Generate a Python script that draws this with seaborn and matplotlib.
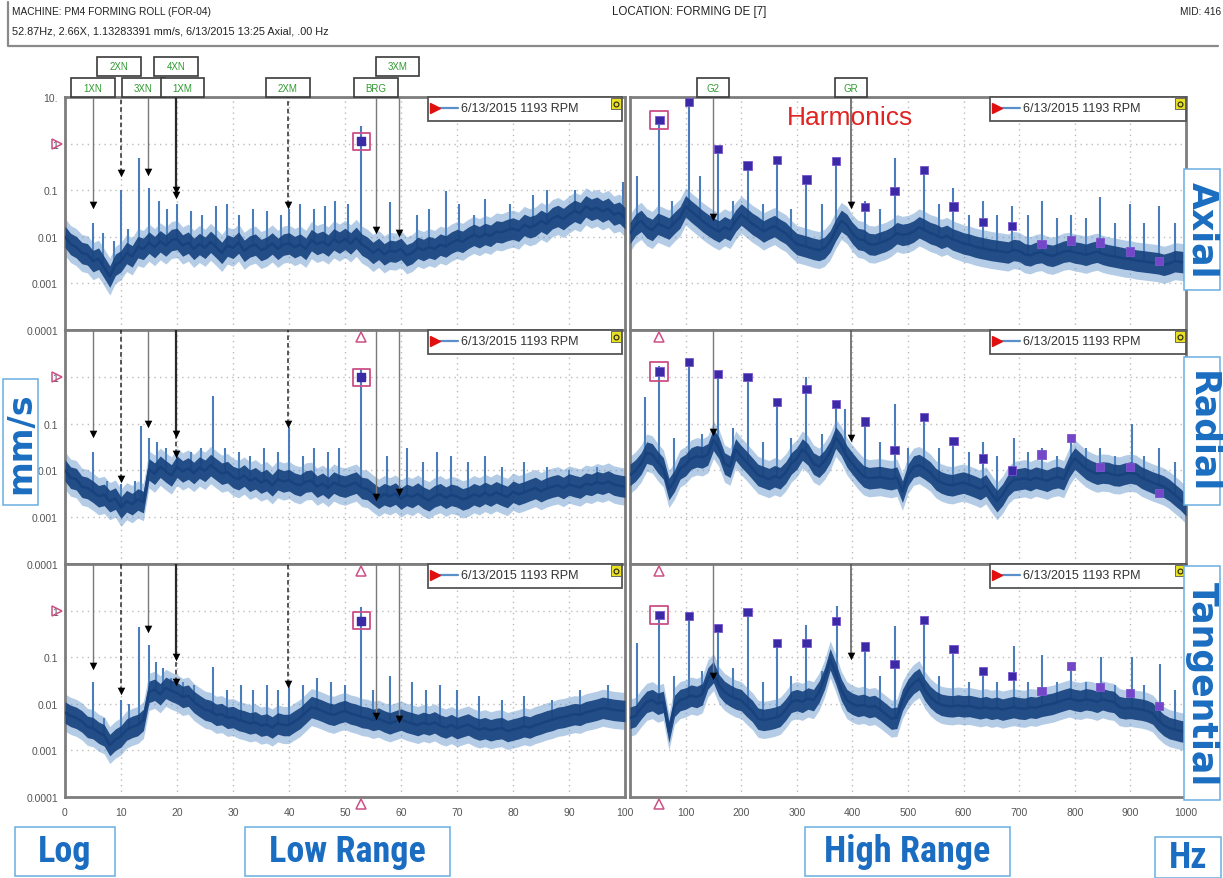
import numpy as np
import matplotlib
matplotlib.use("Agg")
import matplotlib.pyplot as plt
import matplotlib.transforms as mtrans
from matplotlib.patches import Rectangle
from matplotlib.lines import Line2D
from matplotlib.ticker import NullLocator
import seaborn as sns

# ── Data ──────────────────────────────────────────────────────────────────
LOW_FREQ = list(range(0, 101))            # Hz, low range floor samples
HIGH_FREQ = list(range(0, 1001, 10))      # Hz, high range floor samples

AXIAL_LOW = [0.01, 0.007, 0.006, 0.0045, 0.0042, 0.003, 0.0034, 0.0022, 0.0014, 0.0025,
             0.003, 0.0045, 0.0038, 0.006, 0.0055, 0.0075, 0.006, 0.008, 0.0065, 0.0085,
             0.009, 0.0065, 0.0075, 0.0055, 0.007, 0.0058, 0.0078, 0.006, 0.0045, 0.0065,
             0.0058, 0.0075, 0.005, 0.0062, 0.0068, 0.0052, 0.0058, 0.0072, 0.0055, 0.0068,
             0.0072, 0.006, 0.0068, 0.0055, 0.0085, 0.007, 0.0078, 0.0065, 0.0088, 0.0075,
             0.009, 0.0072, 0.0095, 0.0068, 0.0058, 0.0045, 0.0055, 0.0042, 0.005, 0.0048,
             0.0055, 0.004, 0.0045, 0.0058, 0.0052, 0.006, 0.0055, 0.0068, 0.0062, 0.0075,
             0.0085, 0.0078, 0.0095, 0.011, 0.0098, 0.0115, 0.0105, 0.013, 0.0125, 0.014,
             0.015, 0.0135, 0.018, 0.016, 0.0175, 0.022, 0.019, 0.025, 0.028, 0.024,
             0.03, 0.036, 0.032, 0.045, 0.038, 0.042, 0.035, 0.04, 0.03, 0.033,
             0.025]
RADIAL_LOW = [0.01, 0.007, 0.0065, 0.0045, 0.0042, 0.0035, 0.0028, 0.003, 0.0022, 0.0025,
              0.0016, 0.0022, 0.0019, 0.0024, 0.0021, 0.0105, 0.0085, 0.012, 0.0095, 0.0078,
              0.012, 0.0095, 0.011, 0.0088, 0.0115, 0.0098, 0.013, 0.0105, 0.0085, 0.0092,
              0.0072, 0.0065, 0.0078, 0.006, 0.0068, 0.0055, 0.0062, 0.0048, 0.0065, 0.0058,
              0.0062, 0.0052, 0.0048, 0.0058, 0.006, 0.0045, 0.0052, 0.0042, 0.0055, 0.0048,
              0.0045, 0.005, 0.0055, 0.0042, 0.004, 0.0032, 0.0026, 0.0031, 0.0028, 0.0032,
              0.0025, 0.003, 0.0027, 0.0032, 0.0026, 0.0023, 0.0028, 0.0031, 0.0026, 0.003,
              0.0028, 0.0024, 0.0026, 0.0031, 0.0028, 0.0033, 0.0029, 0.0034, 0.003, 0.0027,
              0.0035, 0.0031, 0.0034, 0.0038, 0.0042, 0.0036, 0.0041, 0.0045, 0.0048, 0.0042,
              0.005, 0.0046, 0.0043, 0.0052, 0.0049, 0.0056, 0.0052, 0.0058, 0.005, 0.0047,
              0.0045]
TANG_LOW = [0.0065, 0.0055, 0.005, 0.0042, 0.0032, 0.003, 0.0024, 0.0021, 0.0013, 0.0017,
            0.002, 0.0028, 0.0032, 0.0035, 0.0045, 0.018, 0.02, 0.016, 0.022, 0.019,
            0.017, 0.014, 0.015, 0.011, 0.009, 0.0075, 0.007, 0.0058, 0.006, 0.005,
            0.0052, 0.0045, 0.0042, 0.0038, 0.004, 0.0034, 0.0036, 0.0031, 0.0038, 0.0035,
            0.0035, 0.0042, 0.005, 0.0065, 0.0085, 0.0078, 0.007, 0.0062, 0.0058, 0.0065,
            0.007, 0.0062, 0.0058, 0.0052, 0.005, 0.0045, 0.0048, 0.0042, 0.0038, 0.0042,
            0.0046, 0.0041, 0.0038, 0.0035, 0.0039, 0.0036, 0.004, 0.0034, 0.0031, 0.0035,
            0.003, 0.0033, 0.0036, 0.0031, 0.0028, 0.003, 0.0027, 0.0029, 0.003, 0.0026,
            0.0028, 0.003, 0.0033, 0.0031, 0.0035, 0.0038, 0.0042, 0.0045, 0.005, 0.0052,
            0.0056, 0.006, 0.0058, 0.0066, 0.007, 0.0075, 0.0082, 0.0078, 0.0074, 0.0072,
            0.007]

AXIAL_HIGH = [0.012, 0.018, 0.022, 0.016, 0.014, 0.019, 0.017, 0.015, 0.02, 0.026,
              0.045, 0.035, 0.028, 0.022, 0.018, 0.015, 0.013, 0.016, 0.014, 0.022,
              0.03, 0.024, 0.019, 0.016, 0.013, 0.015, 0.017, 0.014, 0.012, 0.009,
              0.007, 0.0065, 0.006, 0.0055, 0.0052, 0.0058, 0.008, 0.014, 0.022, 0.018,
              0.012, 0.009, 0.0085, 0.007, 0.0068, 0.0075, 0.0082, 0.0095, 0.012, 0.011,
              0.0115, 0.013, 0.016, 0.014, 0.012, 0.011, 0.0095, 0.0105, 0.0088, 0.008,
              0.0072, 0.0068, 0.0062, 0.0058, 0.0055, 0.0052, 0.005, 0.0048, 0.0046, 0.0052,
              0.005, 0.0042, 0.004, 0.0045, 0.0047, 0.0041, 0.0039, 0.0043, 0.0048, 0.005,
              0.0046, 0.0044, 0.0041, 0.0045, 0.0048, 0.0043, 0.004, 0.0038, 0.0036, 0.0034,
              0.0033, 0.0031, 0.003, 0.0029, 0.0028, 0.0027, 0.0025, 0.0027, 0.003, 0.0029,
              0.0028]
RADIAL_HIGH = [0.008, 0.01, 0.014, 0.024, 0.022, 0.015, 0.011, 0.004, 0.006, 0.011,
               0.013, 0.018, 0.02, 0.019, 0.022, 0.045, 0.03, 0.014, 0.012, 0.028,
               0.02, 0.015, 0.011, 0.008, 0.0072, 0.0065, 0.0075, 0.0068, 0.009, 0.014,
               0.018, 0.028, 0.022, 0.014, 0.012, 0.016, 0.025, 0.05, 0.035, 0.02,
               0.014, 0.01, 0.0075, 0.0068, 0.007, 0.0072, 0.0068, 0.0065, 0.007, 0.0035,
               0.008, 0.012, 0.013, 0.011, 0.009, 0.0065, 0.0055, 0.005, 0.0048, 0.0052,
               0.0055, 0.005, 0.0045, 0.004, 0.0048, 0.0032, 0.0022, 0.003, 0.0048, 0.0062,
               0.0065, 0.0068, 0.0062, 0.007, 0.0065, 0.006, 0.0068, 0.0072, 0.0065, 0.012,
               0.018, 0.014, 0.011, 0.0095, 0.0085, 0.009, 0.0088, 0.008, 0.0078, 0.0085,
               0.009, 0.0085, 0.007, 0.0062, 0.0055, 0.005, 0.0045, 0.0038, 0.003, 0.0024,
               0.0018]
TANG_HIGH = [0.005, 0.0055, 0.008, 0.011, 0.012, 0.01, 0.011, 0.0025, 0.009, 0.012,
             0.013, 0.015, 0.014, 0.016, 0.035, 0.048, 0.025, 0.018, 0.015, 0.013,
             0.012, 0.009, 0.007, 0.0048, 0.0045, 0.0047, 0.005, 0.0055, 0.0075, 0.011,
             0.012, 0.011, 0.013, 0.012, 0.018, 0.035, 0.09, 0.045, 0.02, 0.012,
             0.01, 0.009, 0.0095, 0.0085, 0.009, 0.0075, 0.006, 0.0048, 0.005, 0.012,
             0.02, 0.028, 0.034, 0.02, 0.014, 0.011, 0.0095, 0.009, 0.0088, 0.0092,
             0.0088, 0.009, 0.0085, 0.008, 0.0085, 0.0078, 0.0082, 0.0075, 0.008, 0.0085,
             0.008, 0.0078, 0.0085, 0.0082, 0.009, 0.0095, 0.01, 0.011, 0.012, 0.013,
             0.012, 0.0115, 0.0125, 0.012, 0.011, 0.0125, 0.0115, 0.011, 0.0085, 0.008,
             0.0082, 0.0078, 0.0075, 0.007, 0.0062, 0.0045, 0.0035, 0.003, 0.0028, 0.0026,
             0.0025]

# spectral lines (Hz, mm/s)
AXIAL_LOW_PEAKS = [(5.0, 0.02), (6.7, 0.012), (8.8, 0.008), (10.0, 0.1), (11.2, 0.015),
                   (13.3, 0.5), (15.0, 0.11), (16.8, 0.06), (18.2, 0.04), (20.0, 0.05),
                   (22.5, 0.035), (24.5, 0.03), (27.0, 0.045), (29.0, 0.05), (31.0, 0.03),
                   (33.5, 0.04), (36.0, 0.035), (38.5, 0.03), (40.0, 0.04), (42.0, 0.05),
                   (44.5, 0.04), (46.4, 0.045), (48.2, 0.06), (50.5, 0.05), (52.9, 2.4),
                   (58.0, 0.055), (62.8, 0.03), (65.0, 0.04), (68.0, 0.094), (70.3, 0.05),
                   (73.0, 0.03), (75.0, 0.065), (79.5, 0.05), (83.6, 0.08), (86.0, 0.1),
                   (91.0, 0.1), (99.6, 0.15)]
RADIAL_LOW_PEAKS = [(5.0, 0.025), (7.5, 0.006), (10.0, 0.005), (12.5, 0.006), (13.5, 0.09),
                    (15.0, 0.05), (16.5, 0.04), (18.0, 0.03), (20.0, 0.02), (22.5, 0.025),
                    (24.3, 0.03), (26.5, 0.38), (28.5, 0.03), (31.0, 0.025), (33.0, 0.02),
                    (35.5, 0.03), (38.0, 0.025), (40.0, 0.083), (42.5, 0.02), (44.5, 0.03),
                    (47.0, 0.025), (49.0, 0.03), (52.9, 1.5), (57.5, 0.02), (61.0, 0.03),
                    (64.0, 0.015), (66.5, 0.025), (69.0, 0.02), (72.0, 0.015), (75.0, 0.02),
                    (78.0, 0.012), (82.0, 0.015), (86.0, 0.012), (90.0, 0.01), (95.0, 0.012)]
TANG_LOW_PEAKS = [(5.0, 0.03), (7.0, 0.005), (10.0, 0.012), (11.5, 0.01), (13.3, 0.45),
                  (15.0, 0.18), (16.3, 0.08), (17.5, 0.06), (19.0, 0.035), (21.0, 0.03),
                  (23.0, 0.025), (26.5, 0.063), (29.0, 0.02), (31.5, 0.025), (33.5, 0.02),
                  (36.0, 0.025), (38.0, 0.02), (40.0, 0.03), (42.5, 0.025), (45.0, 0.035),
                  (47.5, 0.03), (50.0, 0.025), (52.9, 1.2), (55.0, 0.02), (58.0, 0.04),
                  (62.0, 0.03), (64.5, 0.02), (67.0, 0.025), (70.0, 0.02), (74.0, 0.015),
                  (78.0, 0.012), (82.0, 0.015), (87.0, 0.012), (92.0, 0.02), (97.0, 0.025)]

AXIAL_HIGH_PEAKS = [(13, 0.2), (52.9, 3.2), (75, 0.06), (105.7, 7.8), (126, 0.2), (158.6, 0.76),
                    (185, 0.06), (211.5, 0.34), (240, 0.05), (264.4, 0.44), (290, 0.04),
                    (317.2, 0.17), (345, 0.05), (370.1, 0.42), (423, 0.06), (450, 0.04),
                    (476, 0.5), (528.7, 0.27), (555, 0.05), (581.6, 0.11), (610, 0.03),
                    (634.4, 0.06), (660, 0.03), (687.3, 0.045), (715, 0.03), (740.2, 0.06),
                    (768, 0.025), (793, 0.03), (820, 0.025), (846, 0.07), (872, 0.02),
                    (898.8, 0.05), (925, 0.02), (951.7, 0.045), (980, 0.02)]
RADIAL_HIGH_PEAKS = [(27, 0.37), (52.9, 1.7), (80, 0.05), (105.7, 2.1), (130, 0.06), (158.6, 1.14),
                     (185, 0.08), (211.5, 1.0), (240, 0.04), (264.4, 0.29), (290, 0.05),
                     (317.2, 0.97), (345, 0.06), (370.1, 0.26), (387, 0.21), (423, 0.11),
                     (450, 0.04), (476, 0.26), (500, 0.03), (528.7, 0.14), (555, 0.03),
                     (581.6, 0.042), (610, 0.025), (634.4, 0.04), (660, 0.02), (690, 0.05),
                     (715, 0.025), (740.2, 0.03), (768, 0.02), (793, 0.05), (820, 0.03),
                     (846, 0.03), (872, 0.02), (902, 0.1), (925, 0.02), (951.7, 0.03), (980, 0.015)]
TANG_HIGH_PEAKS = [(13, 0.2), (52.9, 0.8), (80, 0.04), (105.7, 0.76), (130, 0.05), (158.6, 0.42),
                   (185, 0.06), (211.5, 0.93), (240, 0.03), (264.4, 0.2), (290, 0.04),
                   (317.2, 0.5), (345, 0.05), (372, 1.26), (423, 0.17), (450, 0.04),
                   (477, 0.47), (500, 0.03), (528.7, 0.63), (555, 0.04), (581.6, 0.15),
                   (610, 0.03), (634.4, 0.05), (660, 0.03), (690, 0.17), (715, 0.03),
                   (740.2, 0.11), (768, 0.03), (793, 0.065), (820, 0.03), (847, 0.1),
                   (872, 0.025), (902, 0.1), (925, 0.025), (953, 0.07), (980, 0.02)]

# 1X..18X of 52.87 Hz
HARM_FREQ = [52.9, 105.7, 158.6, 211.5, 264.4, 317.2, 370.1, 423.0, 475.8,
             528.7, 581.6, 634.4, 687.3, 740.2, 793.1, 845.9, 898.8, 951.7]
AXIAL_HARM = [3.2, 7.8, 0.76, 0.34, 0.44, 0.17, 0.42, 0.043, 0.096,
              0.27, 0.045, 0.021, 0.017, 0.007, 0.0083, 0.0076, 0.0048, 0.003]
RADIAL_HARM = [1.3, 2.1, 1.14, 1.0, 0.29, 0.54, 0.26, 0.11, 0.027,
               0.14, 0.042, 0.018, 0.01, 0.022, 0.05, 0.012, 0.012, 0.0033]
TANG_HARM = [0.8, 0.76, 0.42, 0.93, 0.2, 0.2, 0.59, 0.17, 0.071,
             0.63, 0.15, 0.05, 0.04, 0.019, 0.065, 0.023, 0.017, 0.009]

CURSOR_FREQ = 52.87
LOW_CURSOR = [1.13, 0.98, 0.6]

LOW_MARK_NAMES = ["1XN", "2XN", "3XN", "4XN", "1XM", "2XM", "BRG", "3XM"]
LOW_MARK_FREQ = [4.97, 9.94, 14.91, 19.88, 19.88, 39.77, 55.5, 59.65]
AXIAL_LOW_MARK = [0.049, 0.23, 0.25, 0.1, 0.077, 0.049, 0.014, 0.012]
RADIAL_LOW_MARK = [0.059, 0.0066, 0.1, 0.059, 0.022, 0.096, 0.0027, 0.0035]
TANG_LOW_MARK = [0.064, 0.019, 0.4, 0.1, 0.03, 0.027, 0.0055, 0.0047]

HIGH_MARK_NAMES = ["G2", "GR"]
HIGH_MARK_FREQ = [149, 397]
AXIAL_HIGH_MARK = [0.027, 0.047]
RADIAL_HIGH_MARK = [0.065, 0.05]
TANG_HIGH_MARK = [0.04, 0.107]

DIRECTIONS = ["Axial", "Radial", "Tangential"]
Y_TICKS = [10, 1, 0.1, 0.01, 0.001, 0.0001]
Y_LABELS_TOP = ["10.", "1", "0.1", "0.01", "0.001", "0.0001"]
Y_LABELS_REST = ["", "1", "0.1", "0.01", "0.001", "0.0001"]
X_LOW_LABELS = ["0", "10", "20", "30", "40", "50", "60", "70", "80", "90", "100"]
X_HIGH_LABELS = ["", "100", "200", "300", "400", "500", "600", "700", "800", "900", "1000"]
LEGEND_TEXT = "6/13/2015 1193 RPM"

# ── Style ────────────────────────────────────────────────────────────────
W, H = 1223, 879
NAVY = "#17427e"
LIGHT = "#5b8fc8"
SPIKE = "#4a7dbb"
GRID = "#bcbcbc"
FRAME = "#7d7d7d"
PINK = "#cc4f86"
HARM_DARK = "#3a2aa6"
HARM_LIGHT = "#7446c8"
LABEL_BLUE = "#1a6dc0"
BOX_BLUE = "#6aaee0"

sns.set_style("white")
plt.rcParams["font.family"] = ["Liberation Sans", "DejaVu Sans"]
NARROW = ["Roboto Condensed", "Liberation Sans Narrow", "Roboto", "DejaVu Sans"]

fig = plt.figure(figsize=(W / 100, H / 100), dpi=100)


def px_rect(x0, y0, x1, y1):
    return [x0 / W, 1 - y1 / H, (x1 - x0) / W, (y1 - y0) / H]


def fpt(x, y):
    return x / W, 1 - y / H


def draw_spectrum(ax, freq, floor, peaks):
    freq = np.asarray(freq, float)
    floor = np.asarray(floor, float)
    pf, pa = map(np.asarray, zip(*peaks))
    base = np.interp(pf, freq, floor)
    ax.vlines(pf, base, pa, color=SPIKE, lw=1.5, zorder=2)
    ax.fill_between(freq, floor / 2.5, floor * 2.5, color=LIGHT, lw=0, alpha=0.45, zorder=2.5)
    ax.fill_between(freq, floor / 1.7, floor * 1.7, color=NAVY, lw=0, alpha=0.92, zorder=3)
    sns.lineplot(x=freq, y=floor, ax=ax, color=NAVY, lw=1.8, estimator=None, zorder=3.5)


def draw_markers(ax, freqs, vals, styles):
    for f, v, (c, ls, lw) in zip(freqs, vals, styles):
        ax.plot([f, f], [v, 10], color=c, ls=ls, lw=lw, zorder=6)
    ax.scatter(freqs, vals, marker="v", s=30, color="black", zorder=7, linewidths=0)


def style_axes(ax, xmax, step):
    ax.set_yscale("log")
    ax.set_xlim(0, xmax)
    ax.set_ylim(1e-4, 10)
    ax.set_xticks(np.arange(0, xmax + 1, step))
    ax.set_yticks(Y_TICKS)
    ax.yaxis.set_minor_locator(NullLocator())
    ax.grid(True, color=GRID, ls=(0, (1, 3)), lw=1.0)
    ax.set_axisbelow(True)
    for sp in ax.spines.values():
        sp.set_color(FRAME)
        sp.set_linewidth(2)
    ax.tick_params(length=0, labelsize=7.5, labelcolor="#555555")
    ax.tick_params(axis="x", pad=7)
    ax.tick_params(axis="y", pad=5)
    ax.set_xlabel("")
    ax.set_ylabel("")


def legend_box(x0, x1, top):
    fig.add_artist(Rectangle(fpt(x0, top + 24), (x1 - x0) / W, 24 / H, transform=fig.transFigure,
                             fc="white", ec="#555555", lw=1.3, zorder=20))
    fig.add_artist(Line2D(*zip(fpt(x0 + 12, top + 11), fpt(x0 + 30, top + 11)),
                          transform=fig.transFigure, color=LIGHT, lw=1.6, zorder=21))
    fig.add_artist(Line2D([fpt(x0 + 7, 0)[0]], [fpt(0, top + 11)[1]], marker=">", ms=6.5,
                          color="#e01010", transform=fig.transFigure, zorder=21))
    fig.text(*fpt(x0 + 33, top + 11), LEGEND_TEXT, fontsize=9, color="#333333",
             va="center", ha="left", zorder=21)
    fig.add_artist(Rectangle(fpt(x1 - 11, top + 12), 10 / W, 11 / H, transform=fig.transFigure,
                             fc="#e8e020", ec="#555555", lw=0.6, zorder=21))
    fig.add_artist(Line2D([fpt(x1 - 6, 0)[0]], [fpt(0, top + 6.5)[1]], marker="o", ms=3.5,
                          mfc="none", mec="#222222", mew=0.8, transform=fig.transFigure, zorder=22))


LOW_STYLES = [("#7a7a7a", "-", 1.0), ("#2a2a2a", (0, (3, 2)), 1.1), ("#7a7a7a", "-", 1.0),
              ("#2a2a2a", "-", 1.6), ("#2a2a2a", (0, (3, 2)), 1.1), ("#2a2a2a", (0, (3, 2)), 1.1),
              ("#7a7a7a", "-", 1.0), ("#7a7a7a", "-", 1.0)]
HIGH_STYLES = [("#7a7a7a", "-", 1.0), ("#555555", "-", 1.1)]
HARM_COLORS = [HARM_DARK] * 13 + [HARM_LIGHT] * 5

ROWS = [(98, 331), (331, 565), (565, 798)]
low_sets = [(AXIAL_LOW, AXIAL_LOW_PEAKS, AXIAL_LOW_MARK),
            (RADIAL_LOW, RADIAL_LOW_PEAKS, RADIAL_LOW_MARK),
            (TANG_LOW, TANG_LOW_PEAKS, TANG_LOW_MARK)]
high_sets = [(AXIAL_HIGH, AXIAL_HIGH_PEAKS, AXIAL_HARM, AXIAL_HIGH_MARK),
             (RADIAL_HIGH, RADIAL_HIGH_PEAKS, RADIAL_HARM, RADIAL_HIGH_MARK),
             (TANG_HIGH, TANG_HIGH_PEAKS, TANG_HARM, TANG_HIGH_MARK)]

axes_low, axes_high = [], []
for r, (y0, y1) in enumerate(ROWS):
    axL = fig.add_axes(px_rect(65, y0, 625, y1))
    axR = fig.add_axes(px_rect(630, y0, 1186, y1))
    floor, peaks, marks = low_sets[r]
    draw_spectrum(axL, LOW_FREQ, floor, peaks)
    hfloor, hpeaks, harm, hmarks = high_sets[r]
    draw_spectrum(axR, HIGH_FREQ, hfloor, hpeaks)

    # cursor at 52.87 Hz (low range)
    axL.scatter([CURSOR_FREQ], [LOW_CURSOR[r]], marker="s", s=150, facecolors="none",
                edgecolors=PINK, linewidths=1.3, zorder=8)
    axL.scatter([CURSOR_FREQ], [LOW_CURSOR[r]], marker="s", s=30, color=HARM_DARK, zorder=8)
    draw_markers(axL, LOW_MARK_FREQ, marks, LOW_STYLES)

    # harmonics (high range)
    sns.scatterplot(x=HARM_FREQ, y=harm, ax=axR, marker="s", s=36, c=HARM_COLORS,
                    edgecolor="#7a55d0", linewidth=0.6, zorder=8, legend=False)
    axR.scatter([HARM_FREQ[0]], [harm[0]], marker="s", s=170, facecolors="none",
                edgecolors=PINK, linewidths=1.3, zorder=8)
    draw_markers(axR, HIGH_MARK_FREQ, hmarks, HIGH_STYLES)

    style_axes(axL, 100, 10)
    style_axes(axR, 1000, 100)
    axL.set_yticklabels(Y_LABELS_TOP if r == 0 else Y_LABELS_REST)
    axR.set_yticklabels([])
    if r == 2:
        axL.set_xticklabels(X_LOW_LABELS)
        axR.set_xticklabels(X_HIGH_LABELS)
    else:
        axL.set_xticklabels([])
        axR.set_xticklabels([])

    # small pink cursor triangles
    axL.plot([-1.4], [1], marker=">", ms=7, mfc="none", mec=PINK, mew=1.1, clip_on=False, zorder=9)
    if r > 0:
        axL.plot([CURSOR_FREQ], [7.0], marker="^", ms=7, mfc="none", mec=PINK, mew=1.1,
                 clip_on=False, zorder=9)
        axR.plot([CURSOR_FREQ], [7.0], marker="^", ms=7, mfc="none", mec=PINK, mew=1.1,
                 clip_on=False, zorder=9)
    if r == 2:
        for ax in (axL, axR):
            ax.plot([CURSOR_FREQ], [7.2e-5], marker="^", ms=7, mfc="none", mec=PINK, mew=1.1,
                    clip_on=False, zorder=9)

    legend_box(428, 622, y0)
    legend_box(990, 1186, y0)
    axes_low.append(axL)
    axes_high.append(axR)

# ── Marker label tabs above the top row ──────────────────────────────────
LOW_TAB_X = [5.0, 9.6, 14.0, 19.8, 21.0, 39.8, 55.5, 59.4]
LOW_TAB_ROW = [0, 1, 0, 1, 0, 0, 0, 1]
HIGH_TAB_X = [149, 397]


def tabs(ax, names, xs, rows, width):
    tr = mtrans.blended_transform_factory(ax.transData, ax.transAxes)
    hh = 19 / 233
    for name, x, row in sorted(zip(names, xs, rows), key=lambda t: t[2]):
        yb = 1.0 + row * (hh + 2 / 233)
        ax.add_patch(Rectangle((x - width / 2, yb), width, hh, transform=tr, fc="white",
                               ec="#3a3a3a", lw=1.2, clip_on=False, zorder=15))
        ax.text(x, yb + hh / 2, name, transform=tr, ha="center", va="center",
                fontsize=7, color="#2f9a2f", clip_on=False, zorder=16)


tabs(axes_low[0], LOW_MARK_NAMES, LOW_TAB_X, LOW_TAB_ROW, 7.8)
tabs(axes_high[0], HIGH_MARK_NAMES, HIGH_TAB_X, [0, 0], 58)

axes_high[0].text(0.395, 0.915, "Harmonics", transform=axes_high[0].transAxes, ha="center",
                  va="center", fontsize=19, color="#e02424", zorder=12)

# ── Header ────────────────────────────────────────────────────────────────
HDR = "#222222"
fig.text(*fpt(12, 12), "MACHINE: PM4 FORMING ROLL (FOR-04)", fontsize=7.3, va="center", color=HDR)
fig.text(*fpt(12, 32), "52.87Hz, 2.66X, 1.13283391 mm/s, 6/13/2015 13:25 Axial, .00 Hz",
         fontsize=7.8, va="center", color=HDR)
fig.text(*fpt(612, 12), "LOCATION: FORMING DE [7]", fontsize=8.3, va="center", color=HDR)
fig.text(*fpt(1221, 12), "MID: 416", fontsize=7.3, va="center", ha="right", color=HDR)
fig.add_artist(Line2D(*zip(fpt(8, 3), fpt(8, 47), fpt(1218, 47)), transform=fig.transFigure,
                      color="#8a8a8a", lw=1.6))


# ── Annotation boxes ─────────────────────────────────────────────────────
def boxed(x0, y0, x1, y1, text, size, rot=0, family=None):
    fig.add_artist(Rectangle(fpt(x0, y1), (x1 - x0) / W, (y1 - y0) / H, transform=fig.transFigure,
                             fc="white", ec=BOX_BLUE, lw=1.1, zorder=30))
    fig.text(*fpt((x0 + x1) / 2, (y0 + y1) / 2), text, fontsize=size, fontweight="bold",
             color=LABEL_BLUE, rotation=rot, ha="center", va="center",
             rotation_mode="anchor", zorder=31, family=family)


SIDE = ["DejaVu Sans"]
boxed(1184, 170, 1220, 291, DIRECTIONS[0], 25, -90, SIDE)
boxed(1184, 358, 1220, 506, DIRECTIONS[1], 25, -90, SIDE)
boxed(1184, 567, 1220, 801, DIRECTIONS[2], 25, -90, SIDE)
boxed(3, 380, 38, 506, "mm/s", 24, 90, SIDE)
boxed(15, 828, 115, 877, "Log", 26, 0, NARROW)
boxed(245, 828, 450, 877, "Low Range", 26, 0, NARROW)
boxed(805, 828, 1010, 877, "High Range", 26, 0, NARROW)
boxed(1155, 838, 1221, 879, "Hz", 26, 0, NARROW)

fig.savefig("out.png", dpi=100)
